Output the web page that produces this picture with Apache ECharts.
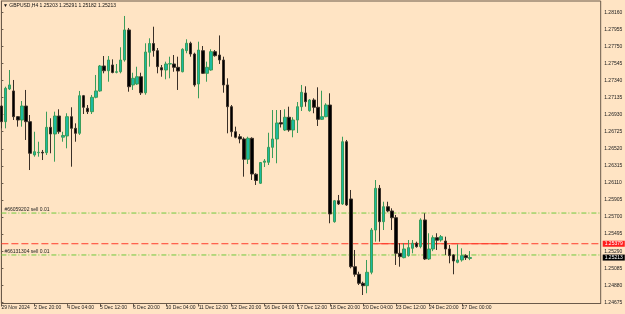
<!DOCTYPE html>
<html>
<head>
<meta charset="utf-8">
<title>GBPUSD,H4</title>
<script src="https://cdn.jsdelivr.net/npm/echarts@6/dist/echarts.min.js"></script>
<style>
  html, body { margin: 0; padding: 0; background: #ffe4c4; }
  #chart { width: 625px; height: 314px; }
</style>
</head>
<body>
<div id="chart"></div>
<script>
// H4 bars, oldest first
const opens = [
  1.27034, 1.26846, 1.27239, 1.27215, 1.26906, 1.26866, 1.27034, 1.26846, 1.26446, 1.26473,
  1.26478, 1.26473, 1.26778, 1.26698, 1.26914, 1.26660, 1.26674, 1.26906, 1.26766, 1.26706,
  1.27158, 1.27007, 1.26966, 1.27139, 1.27215, 1.27515, 1.27458, 1.27527, 1.27439, 1.27446,
  1.27587, 1.27948, 1.27287, 1.27299, 1.27386, 1.27193, 1.27680, 1.27785, 1.27699, 1.27495,
  1.27467, 1.27539, 1.27539, 1.27499, 1.27446, 1.27700, 1.27788, 1.27659, 1.27299, 1.27699,
  1.27427, 1.27467, 1.27687, 1.27647, 1.27587, 1.27287, 1.27026, 1.26725, 1.26665, 1.26638,
  1.26394, 1.26646, 1.26214, 1.26106, 1.26358, 1.26358, 1.26538, 1.26638, 1.26834, 1.26746,
  1.26899, 1.26746, 1.26866, 1.27026, 1.27191, 1.26978, 1.27106, 1.27019, 1.26874, 1.26906,
  1.27046, 1.25644, 1.25896, 1.25857, 1.26605, 1.25917, 1.25103, 1.25012, 1.24904, 1.24875,
  1.25036, 1.25544, 1.26045, 1.25644, 1.25824, 1.25773, 1.25692, 1.25264, 1.25212, 1.25236,
  1.25324, 1.25385, 1.25344, 1.25665, 1.25196, 1.25316, 1.25452, 1.25424, 1.25412, 1.25316,
  1.25244, 1.25156, 1.25184, 1.25236, 1.25203
];
const closes = [
  1.26846, 1.27247, 1.27287, 1.26906, 1.26866, 1.27034, 1.26846, 1.26466, 1.26485, 1.26478,
  1.26470, 1.26778, 1.26698, 1.26914, 1.26725, 1.26680, 1.26906, 1.26766, 1.26706, 1.27158,
  1.27019, 1.26966, 1.27139, 1.27215, 1.27515, 1.27458, 1.27587, 1.27437, 1.27446, 1.27587,
  1.27948, 1.27266, 1.27367, 1.27386, 1.27193, 1.27683, 1.27785, 1.27699, 1.27507, 1.27467,
  1.27539, 1.27543, 1.27499, 1.27455, 1.27716, 1.27788, 1.27659, 1.27287, 1.27707, 1.27427,
  1.27499, 1.27687, 1.27639, 1.27587, 1.27287, 1.27026, 1.26725, 1.26658, 1.26638, 1.26394,
  1.26646, 1.26217, 1.26139, 1.26355, 1.26373, 1.26538, 1.26638, 1.26830, 1.26818, 1.26899,
  1.26746, 1.26866, 1.27026, 1.27199, 1.27086, 1.27106, 1.27019, 1.26874, 1.26906, 1.27046,
  1.25737, 1.25896, 1.25857, 1.26605, 1.25845, 1.25103, 1.25012, 1.24904, 1.24875, 1.25036,
  1.25544, 1.26045, 1.25644, 1.25824, 1.25773, 1.25692, 1.25264, 1.25224, 1.25316, 1.25332,
  1.25385, 1.25344, 1.25665, 1.25196, 1.25316, 1.25452, 1.25421, 1.25464, 1.25316, 1.25236,
  1.25172, 1.25184, 1.25236, 1.25212, 1.25213
];
const highs = [
  1.27046, 1.27266, 1.27467, 1.27347, 1.26914, 1.27094, 1.27227, 1.26926, 1.26725, 1.26605,
  1.26506, 1.26966, 1.26887, 1.26966, 1.26995, 1.26725, 1.26947, 1.27019, 1.26826, 1.27215,
  1.27167, 1.27046, 1.27167, 1.27407, 1.27527, 1.27635, 1.27635, 1.27595, 1.27539, 1.27740,
  1.28116, 1.27972, 1.27434, 1.27506, 1.27434, 1.27788, 1.27848, 1.27987, 1.27731, 1.27527,
  1.27567, 1.27627, 1.27647, 1.27627, 1.27728, 1.27836, 1.27807, 1.27675, 1.27807, 1.27755,
  1.27567, 1.27716, 1.27707, 1.27882, 1.27627, 1.27367, 1.27046, 1.26786, 1.26698, 1.26658,
  1.26665, 1.26658, 1.26226, 1.26361, 1.26397, 1.26713, 1.26986, 1.26986, 1.26986, 1.26995,
  1.27026, 1.26899, 1.27082, 1.27287, 1.27271, 1.27118, 1.27127, 1.27259, 1.27218, 1.27067,
  1.27187, 1.25905, 1.25965, 1.26665, 1.26626, 1.26025, 1.25304, 1.25043, 1.24923, 1.25184,
  1.25568, 1.26145, 1.26085, 1.25884, 1.25884, 1.25805, 1.25725, 1.25385, 1.25385, 1.25424,
  1.25424, 1.25404, 1.25685, 1.25745, 1.25505, 1.25480, 1.25505, 1.25484, 1.25464, 1.25364,
  1.25252, 1.25372, 1.25324, 1.25252, 1.25291
];
const lows = [
  1.26766, 1.26766, 1.27227, 1.26866, 1.26786, 1.26786, 1.26626, 1.26265, 1.26425, 1.26425,
  1.26385, 1.26446, 1.26466, 1.26365, 1.26700, 1.26605, 1.26526, 1.26305, 1.26605, 1.26686,
  1.26938, 1.26938, 1.26938, 1.27127, 1.27206, 1.27427, 1.27326, 1.27427, 1.27427, 1.27427,
  1.27567, 1.27206, 1.27227, 1.27287, 1.27167, 1.27170, 1.27507, 1.27627, 1.27427, 1.27386,
  1.27355, 1.27367, 1.27446, 1.27227, 1.27439, 1.27668, 1.27627, 1.27266, 1.27127, 1.27419,
  1.27326, 1.27458, 1.27627, 1.27539, 1.27194, 1.26706, 1.26665, 1.26646, 1.26586, 1.26185,
  1.26337, 1.26145, 1.26085, 1.26097, 1.26301, 1.26325, 1.26409, 1.26346, 1.26776, 1.26734,
  1.26725, 1.26658, 1.26710, 1.26974, 1.27026, 1.26966, 1.26947, 1.26794, 1.26866, 1.26899,
  1.25625, 1.25632, 1.25845, 1.25845, 1.25833, 1.25084, 1.24983, 1.24883, 1.24763, 1.24784,
  1.25012, 1.25404, 1.25404, 1.25544, 1.25757, 1.25544, 1.25124, 1.25103, 1.25204, 1.25224,
  1.25264, 1.25332, 1.25324, 1.25184, 1.25184, 1.25290, 1.25304, 1.25404, 1.25244, 1.25144,
  1.25012, 1.25144, 1.25164, 1.25184, 1.25182
];

// time labels under the chart, one every 8 bars
const timeLabels = [
  '29 Nov 2024', '2 Dec 20:00', '4 Dec 04:00', '5 Dec 12:00', '6 Dec 20:00',
  '10 Dec 04:00', '11 Dec 12:00', '12 Dec 20:00', '16 Dec 04:00', '17 Dec 12:00',
  '18 Dec 20:00', '20 Dec 04:00', '23 Dec 12:00', '24 Dec 20:00', '27 Dec 00:00'
];
const labelStep = 8;

// price scale labels
const priceTicks = [
  1.28160, 1.27955, 1.27750, 1.27545, 1.27340, 1.27135, 1.26930, 1.26725, 1.26520,
  1.26315, 1.26110, 1.25905, 1.25700, 1.25495, 1.25290, 1.25085, 1.24880, 1.24675
];

// open orders and price lines
const orderNames = ['#66059202 sell 0.01', '#66131304 sell 0.01'];
const orderPrices = [1.25748, 1.25244];
const askPrice = 1.25379;
const bidPrice = 1.25213;
const askSegment = [90.5, 123]; // bar positions where the solid red piece starts and ends

const symbolTitle = '\u25BC GBPUSD,H4 1.25203 1.25291 1.25182 1.25213';

// visible window: bar positions and price range
const xMin = 0;
const xMax = 145.8;
const yMin = 1.24661;
const yMax = 1.28296;

const font = 'Liberation Sans';
const frame = '#6a5a4a';
const orderGreen = '#6fcb3c';
const askRed = '#ff3b2b';

const candles = opens.map((o, i) => [i, o, closes[i], lows[i], highs[i]]);
const tickIdx = timeLabels.map((_, k) => k * labelStep);

// a horizontal level across the whole window
const level = (price, lineStyle, extra) => Object.assign({
  type: 'line',
  data: [[xMin, price], [xMax, price]],
  symbol: 'none',
  silent: true,
  z: 1,
  lineStyle: Object.assign({ width: 1 }, lineStyle),
}, extra);

const tag = (price, bg) => ({
  endLabel: {
    show: true,
    distance: 2,
    formatter: price.toFixed(5),
    backgroundColor: bg,
    color: '#fff',
    padding: [1, 2, 0, 2],
    fontSize: 5,
    fontFamily: font,
  },
});

const chart = echarts.init(document.getElementById('chart'));
chart.setOption({
  backgroundColor: '#ffe4c4',
  animation: false,
  title: {
    text: symbolTitle,
    left: 3,
    top: 3,
    padding: 0,
    textStyle: { fontSize: 5, fontWeight: 'normal', color: '#111', fontFamily: font },
  },
  grid: {
    left: 1.4,
    right: 24.3,
    top: 1,
    bottom: 10.5,
    outerBoundsMode: 'none',
    show: true,
    borderColor: frame,
    borderWidth: 1,
    backgroundColor: 'transparent',
  },
  xAxis: {
    type: 'value',
    min: xMin,
    max: xMax,
    splitLine: { show: false },
    axisLine: { show: true, onZero: false, lineStyle: { color: frame } },
    axisTick: { show: true, customValues: tickIdx, length: 3, lineStyle: { color: frame } },
    axisLabel: {
      customValues: tickIdx,
      formatter: v => timeLabels[Math.round(v / labelStep)],
      align: 'left',
      margin: 2,
      fontSize: 5,
      fontFamily: font,
      color: '#222',
    },
  },
  yAxis: {
    type: 'value',
    position: 'right',
    min: yMin,
    max: yMax,
    splitLine: { show: false },
    axisLine: { show: true, lineStyle: { color: frame } },
    axisTick: { show: true, customValues: priceTicks, length: 2, lineStyle: { color: frame } },
    axisLabel: {
      customValues: priceTicks,
      formatter: v => v.toFixed(5),
      margin: 3.5,
      fontSize: 5,
      fontFamily: font,
      color: '#222',
    },
  },
  series: [
    level(orderPrices[0], { color: orderGreen, type: [5, 2, 1, 2] }),
    level(orderPrices[1], { color: orderGreen, type: [5, 2, 1, 2] }),
    level(askPrice, { color: askRed, type: [7, 3] }, tag(askPrice, '#ff1e1e')),
    level(bidPrice, { color: 'rgba(0,0,0,0)' }, tag(bidPrice, '#000')),
    {
      // solid red piece over the ask level
      type: 'line',
      data: [[askSegment[0], askPrice], [askSegment[1], askPrice]],
      symbol: 'none',
      silent: true,
      z: 1,
      lineStyle: { color: askRed, width: 1 },
    },
    {
      // order names written above their lines
      type: 'line',
      data: [],
      silent: true,
      markLine: {
        symbol: 'none',
        silent: true,
        animation: false,
        precision: 5,
        lineStyle: { color: 'rgba(0,0,0,0)', width: 1 },
        label: {
          show: true,
          position: 'insideStartTop',
          distance: [3, 1],
          fontSize: 5,
          fontFamily: font,
          color: '#222',
        },
        data: orderPrices.map((p, i) => ({ yAxis: p, label: { formatter: orderNames[i] } })),
      },
    },
    {
      type: 'candlestick',
      data: candles,
      encode: { x: 0, y: [1, 2, 3, 4] },
      barWidth: 3,
      clip: false,
      z: 2,
      itemStyle: {
        color: '#1bbaa0',
        color0: '#000000',
        borderColor: '#3a9c5a',
        borderColor0: '#3a3028',
        borderWidth: 1,
      },
    },
  ],
});
</script>
</body>
</html>
